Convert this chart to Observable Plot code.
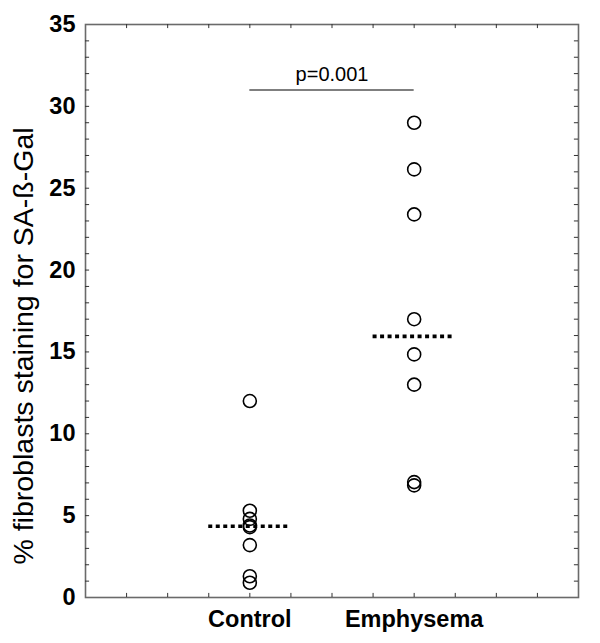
<!DOCTYPE html>
<html><head><meta charset="utf-8">
<script src="https://cdn.jsdelivr.net/npm/d3@7"></script>
<script src="https://cdn.jsdelivr.net/npm/@observablehq/plot@0.6"></script>
<style>body{margin:0;background:#fff}</style>
</head><body><div id="chart"></div>
<script>
// ---- data ----
const categories = ["Control", "Emphysema"];
const controlValues = [12.0, 5.3, 4.8, 4.4, 4.3, 3.2, 1.3, 0.9];
const emphysemaValues = [29.0, 26.15, 23.4, 17.0, 14.85, 13.0, 7.05, 6.85];
const medians = [4.35, 15.95];
const yTickLabels = [0, 5, 10, 15, 20, 25, 30, 35];
const yMinorTicks = d3.range(1, 35);
const xMinorTicks = d3.range(1, 12);
const pValueText = "p=0.001";
const pValueY = 31;
const yLabel = "% fibroblasts staining for SA-\u00DF-Gal";

// ---- layout helpers ----
const catPos = i => 4 * (i + 1);
const xMax = 12, yMax = 35;
const points = [
  ...controlValues.map(v => ({group: categories[0], value: v})),
  ...emphysemaValues.map(v => ({group: categories[1], value: v}))
];
const medianRows = medians.map((m, i) => ({i, m}));
const font = "Liberation Sans, Arial, Helvetica, sans-serif";

const chart = Plot.plot({
  width: 600,
  height: 643,
  marginLeft: 85,
  marginRight: 22,
  marginTop: 24,
  marginBottom: 46,
  style: {fontFamily: font, background: "#fff", color: "#000"},
  x: {domain: [0, xMax], axis: null},
  y: {domain: [0, yMax], axis: null},
  marks: [
    Plot.frame({stroke: "#6a6a6a", strokeWidth: 1.6}),
    Plot.ruleY(yMinorTicks, {y: d => d, x1: 0, x2: 0.1, stroke: "#333", strokeWidth: 1}),
    Plot.ruleY(yMinorTicks, {y: d => d, x1: xMax - 0.1, x2: xMax, stroke: "#333", strokeWidth: 1}),
    Plot.ruleX(xMinorTicks, {x: d => d, y1: 0, y2: 0.25, stroke: "#333", strokeWidth: 1}),
    Plot.ruleX(xMinorTicks, {x: d => d, y1: yMax - 0.25, y2: yMax, stroke: "#333", strokeWidth: 1}),
    Plot.dot(points, {
      x: d => catPos(categories.indexOf(d.group)),
      y: "value",
      r: 6.5, stroke: "#000", strokeWidth: 1.6, fill: "none"
    }),
    Plot.ruleY(medianRows, {
      y: "m", x1: d => catPos(d.i) - 1, x2: d => catPos(d.i) + 1,
      stroke: "#000", strokeWidth: 3.6, strokeDasharray: "4,3.5"
    }),
    Plot.ruleY([pValueY], {x1: catPos(0), x2: catPos(1), stroke: "#555", strokeWidth: 1.3}),
    Plot.text([pValueText], {
      x: (catPos(0) + catPos(1)) / 2, y: pValueY, text: d => d,
      dy: -15, fontSize: 20, fill: "#000", fontFamily: font
    }),
    Plot.text([yLabel], {
      frameAnchor: "left", text: d => d, rotate: -90, dx: -62, dy: 35,
      textAnchor: "middle", lineAnchor: "middle",
      fontSize: 28.5, fill: "#000", fontFamily: font
    }),
    Plot.axisY({
      ticks: yTickLabels, tickSize: 0, tickPadding: 10, label: null,
      fontSize: 23.5, fontWeight: "bold", fontFamily: font
    }),
    Plot.axisX({
      ticks: categories.map((c, i) => catPos(i)),
      tickFormat: d => categories[d / 4 - 1],
      tickSize: 0, tickPadding: 13, label: null,
      fontSize: 23.5, fontWeight: "bold", fontFamily: font
    })
  ]
});
document.getElementById("chart").appendChild(chart);
</script>
</body></html>
